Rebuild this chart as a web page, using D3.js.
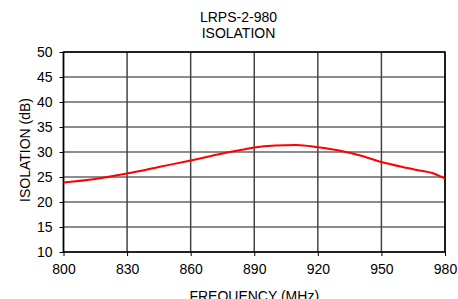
<!DOCTYPE html>
<html>
<head>
<meta charset="utf-8">
<script src="https://cdn.jsdelivr.net/npm/d3@7"></script>
<style>
  html, body { margin: 0; padding: 0; background: #fff; }
  svg { display: block; font-family: "Liberation Sans", Arial, sans-serif; }
</style>
</head>
<body>
<div id="chart"></div>
<script>
// values
const freq = [800, 815, 830, 845, 860, 875, 885, 890, 900, 910, 920, 930, 940, 950, 960, 968, 974, 978, 980];
const isolation = [23.9, 24.6, 25.7, 27.0, 28.3, 29.7, 30.5, 30.9, 31.3, 31.4, 30.95, 30.3, 29.3, 28.0, 27.0, 26.3, 25.8, 25.1, 24.7];
const xTicks = [800, 830, 860, 890, 920, 950, 980];
const yTicks = [10, 15, 20, 25, 30, 35, 40, 45, 50];
const titleLines = ['LRPS-2-980', 'ISOLATION'];

const width = 458, height = 299;
const margin = {top: 52, right: 13, bottom: 47, left: 63.5};

const svg = d3.select('#chart')
  .append('svg')
    .attr('width', width)
    .attr('height', height);

const xScale = d3.scaleLinear()
  .domain([800, 980])
  .range([margin.left, width - margin.right]);

const yScale = d3.scaleLinear()
  .domain([10, 50])
  .range([height - margin.bottom, margin.top]);

// grid
svg.append('g')
  .selectAll('line')
  .data(yTicks)
  .join('line')
    .attr('x1', margin.left)
    .attr('x2', width - margin.right)
    .attr('y1', (d) => yScale(d))
    .attr('y2', (d) => yScale(d))
    .attr('stroke', '#666')
    .attr('stroke-width', 1.5);

svg.append('g')
  .selectAll('line')
  .data(xTicks)
  .join('line')
    .attr('x1', (d) => xScale(d))
    .attr('x2', (d) => xScale(d))
    .attr('y1', margin.top)
    .attr('y2', height - margin.bottom)
    .attr('stroke', '#444')
    .attr('stroke-width', 1.5);

// axes
const xAxis = svg.append('g')
  .attr('transform', `translate(0, ${height - margin.bottom})`)
  .call(d3.axisBottom(xScale).tickValues(xTicks).tickSize(4).tickPadding(8));

const yAxis = svg.append('g')
  .attr('transform', `translate(${margin.left}, 0)`)
  .call(d3.axisLeft(yScale).tickValues(yTicks).tickSize(4).tickPadding(7));

[xAxis, yAxis].forEach((ax) => {
  ax.select('.domain').remove();
  ax.selectAll('line').attr('stroke', '#000');
  ax.selectAll('text')
    .attr('fill', '#000')
    .style('font-size', '14px')
    .style('font-family', '"Liberation Sans", Arial, sans-serif');
});

// frame
svg.append('rect')
  .attr('x', margin.left)
  .attr('y', margin.top)
  .attr('width', width - margin.left - margin.right)
  .attr('height', height - margin.top - margin.bottom)
  .attr('fill', 'none')
  .attr('stroke', '#000')
  .attr('stroke-width', 1.5);

// curve
const line = d3.line()
  .x((d, i) => xScale(freq[i]))
  .y((d) => yScale(d))
  .curve(d3.curveMonotoneX);

svg.append('path')
  .datum(isolation)
  .attr('fill', 'none')
  .attr('stroke', '#ff0000')
  .attr('stroke-width', 2)
  .attr('d', line);

// titles
svg.append('g')
  .selectAll('text')
  .data(titleLines)
  .join('text')
    .attr('x', 238.5)
    .attr('y', (d, i) => 22 + i * 16)
    .attr('text-anchor', 'middle')
    .style('font-size', '14px')
    .text((d) => d);

// the reference crops this title at the bottom edge
svg.append('text')
  .attr('x', (margin.left + width - margin.right) / 2)
  .attr('y', 301)
  .attr('text-anchor', 'middle')
  .style('font-size', '14px')
  .text('FREQUENCY (MHz)');

svg.append('text')
  .attr('transform', `translate(30, ${(margin.top + height - margin.bottom) / 2 - 2}) rotate(-90)`)
  .attr('text-anchor', 'middle')
  .style('font-size', '14px')
  .text('ISOLATION (dB)');
</script>
</body>
</html>
